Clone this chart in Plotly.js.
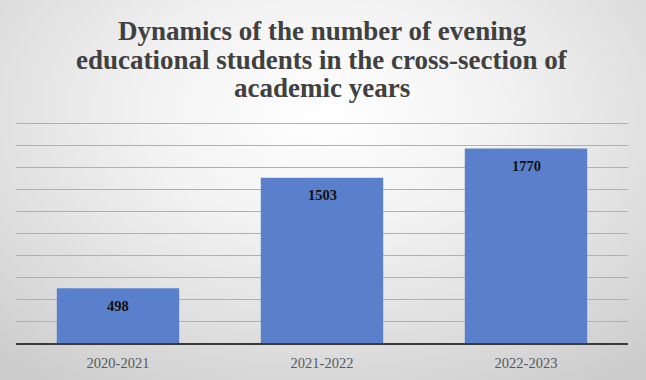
<!DOCTYPE html>
<html>
<head>
<meta charset="utf-8">
<script src="https://cdn.plot.ly/plotly-3.0.1.min.js"></script>
<style>
  html, body { margin: 0; padding: 0; }
  #chart {
    width: 646px; height: 380px;
    background: radial-gradient(ellipse 75% 85% at 50% 30%, #ffffff 0%, #f3f3f3 35%, #dcdcdc 75%, #cdcdcd 100%);
  }
</style>
</head>
<body>
<div id="chart"></div>
<script>
// Data
const categories = ["2020-2021", "2021-2022", "2022-2023"];
const students = [498, 1503, 1770];
const titleLines = [
  "Dynamics of the number of evening",
  "educational students in the cross-section of",
  "academic years"
];

const serif = "Liberation Serif, Times New Roman, serif";

const trace = {
  type: "bar",
  x: categories,
  y: students,
  marker: { color: "#5a80cb", line: { width: 0 } },
  hoverinfo: "x+y"
};

// plot area: 221.1 px tall for 0..2010, bottom at 343.3
const titleY = [1.4195, 1.2877, 1.1605].map(v => v * 2000 / 2010);
const annotations = [];
titleLines.forEach((t, i) => {
  annotations.push({
    text: "<b>" + t + "</b>",
    xref: "paper", yref: "paper",
    x: 0.5, y: titleY[i],
    xanchor: "center", yanchor: "middle",
    showarrow: false,
    font: { family: serif, size: 27, color: "#404040" }
  });
});
categories.forEach((c, i) => {
  annotations.push({
    text: "<b>" + students[i] + "</b>",
    xref: "x", yref: "y",
    x: c, y: students[i],
    yanchor: "middle", yshift: -17.5,
    showarrow: false,
    font: { family: serif, size: 14.5, color: "#111111" }
  });
});

const layout = {
  width: 646, height: 380,
  margin: { l: 16, r: 18, t: 122, b: 37 },
  paper_bgcolor: "rgba(0,0,0,0)",
  plot_bgcolor: "rgba(0,0,0,0)",
  showlegend: false,
  bargap: 0.4,
  xaxis: {
    type: "category",
    showline: true, linecolor: "#3a3a3a", linewidth: 2,
    showgrid: false, ticks: "",
    ticklabelstandoff: 6,
    tickfont: { family: serif, size: 14.5, color: "#595959" },
    fixedrange: true
  },
  yaxis: {
    range: [0, 2010], dtick: 200, tick0: 0,
    showticklabels: false, ticks: "",
    showgrid: true, gridcolor: "#b0b0b0", gridwidth: 1,
    zeroline: false, showline: false,
    fixedrange: true
  },
  annotations: annotations
};

Plotly.newPlot("chart", [trace], layout, { displayModeBar: false, staticPlot: true });
</script>
</body>
</html>
